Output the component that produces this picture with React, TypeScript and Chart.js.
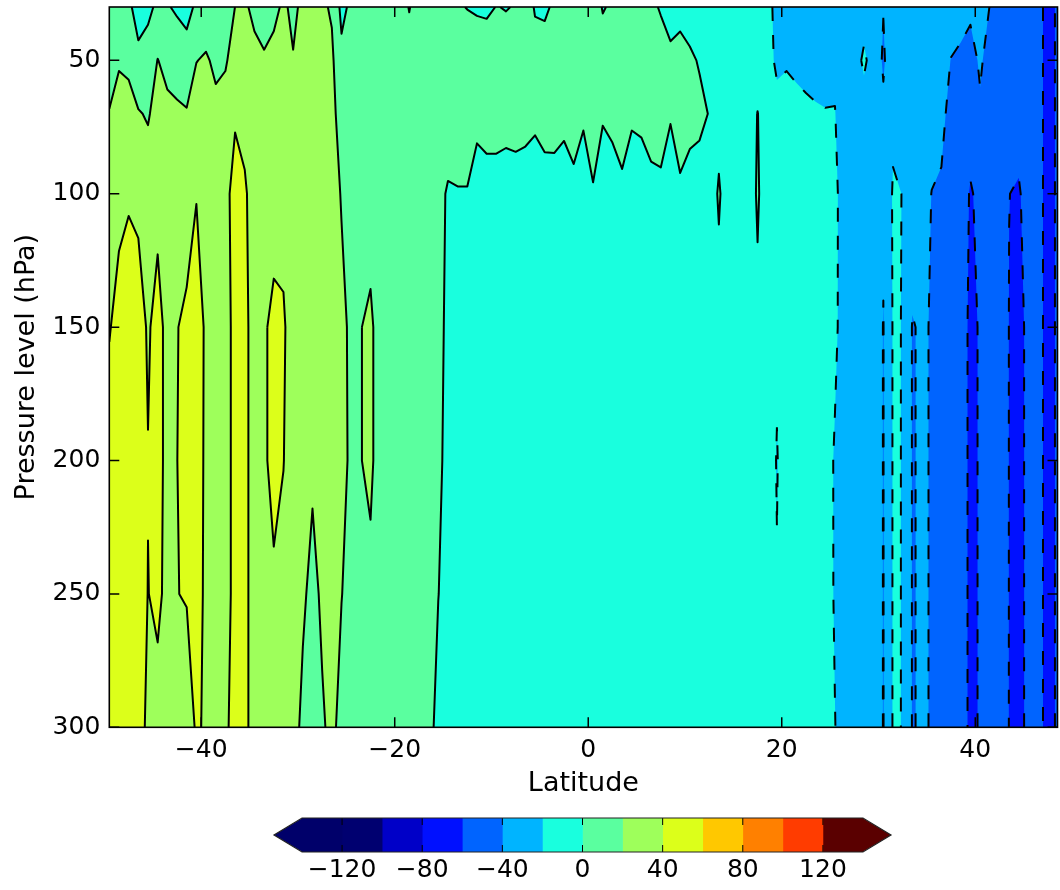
import React, { useEffect, useRef } from "react";
import { Chart, registerables } from "chart.js";

Chart.register(...registerables);

const FONT = "'DejaVu Sans', sans-serif";

// Latitude grid (degrees)
const latitudes = [
  -49.5, -48.5, -47.5, -46.5, -45.5, -44.5, -43.5, -42.5, -41.5, -40.5,
  -39.5, -38.5, -37.5, -36.5, -35.5, -34.5, -33.5, -32.5, -31.5, -30.5,
  -29.5, -28.5, -27.5, -26.5, -25.5, -24.5, -23.5, -22.5, -21.5, -20.5,
  -19.5, -18.5, -17.5, -16.5, -15.5, -14.5, -13.5, -12.5, -11.5, -10.5,
  -9.5, -8.5, -7.5, -6.5, -5.5, -4.5, -3.5, -2.5, -1.5, -0.5,
  0.5, 1.5, 2.5, 3.5, 4.5, 5.5, 6.5, 7.5, 8.5, 9.5,
  10.5, 11.5, 12.5, 13.5, 14.5, 15.5, 16.5, 17.5, 18.5, 19.5,
  20.5, 21.5, 22.5, 23.5, 24.5, 25.5, 26.5, 27.5, 28.5, 29.5,
  30.5, 31.5, 32.5, 33.5, 34.5, 35.5, 36.5, 37.5, 38.5, 39.5,
  40.5, 41.5, 42.5, 43.5, 44.5, 45.5, 46.5, 47.5, 48.5,
];

// Pressure levels (hPa)
const pressureLevels = [30, 50, 70, 100, 150, 200, 250, 300];

// Field values at each pressure level, one value per latitude
const u30 = [
  12, 10, 2.4, -5, -4, 3.3, 1, -2, -6, 3,
  8, 10, 12, 20.1, 23, 15, 12, 15, 23, 16,
  24, 27, 23, 17.9, -5, 3.9, 10, 10, 10, 10,
  10, -1, 10, 10, 10, 10, 1.6, -0.5, -3, -4,
  0.5, -0.8, 1, 12, -2, -2.5, 2.3, 3, 8, 8,
  8, -1, 2, 10, 10, 10, 4.5, -2, -5, -4,
  -6, -8, -10, -10, -10, -10, -10, -12, -11, -28,
  -30, -30, -30, -30, -30, -25, -30, -30, -30, -30,
  -39.5, -30, -30, -30, -30, -30, -30, -32, -36, -38,
  -35, -40.2, -45, -48, -50, -50, -55, -65, -58.2,
];
const u50 = [
  15, 18, 16, 3, 8, 20.5, 14, 9, 8.3, 19.5,
  22.3, 16, 18, 28, 30, 26, 22, 26, 30, 21,
  30, 30, 25, 23.3, 5, 10, 10, 10, 10, 10,
  10, 9, 10, 10, 10, 10, 10, 10, 15, 14,
  10, 9, 10, 10, 9, 7, 10, 10, 10, 10,
  10, 7.3, 10, 10, 10, 10, 10, 10.5, 2.8, 4.7,
  2.1, -1, -8, -10, -10, -10, -10, -10, -10.5, -24.7,
  -22, -24, -26, -27, -28, -23, -30, -30, -16, -30,
  -42, -30, -30, -30, -30, -30, -33, -40.5, -42, -44,
  -38.5, -44, -50, -50, -52, -50, -55, -65, -58.2,
];
const u70 = [
  20.5, 28, 27, 21.6, 18, 28, 25, 24, 21.5, 30,
  30, 25, 28, 36, 33, 30, 30, 30, 30, 30,
  30, 30, 28, 26.7, 10, 10, 10, 10, 10, 10,
  10, 10, 10, 10, 10, 15.75, 10, 10, 5, 10,
  10, 7.5, 10, 10, 5, 10, 10, 6, 10, 4,
  12, 3, 7, 10, 4, 5, 10, 10, 2, 8,
  6, 3, -0.5, -6, -10, -10, -10, 0.5, -10, -12,
  -12, -14.5, -16.2, -18, -19, -19.5, -30, -30, -30, -30,
  -37, -24, -30, -30, -30, -30, -36, -45, -46, -50,
  -41.5, -48, -50, -52, -56, -50, -55, -65, -58.2,
];
const u100 = [
  30, 34, 38, 36, 32, 35, 30, 30, 33, 39,
  32, 30, 30, 53, 43, 30, 32, 33, 33, 30,
  30, 30, 30, 33.4, 18, 10, 12, 10, 10, 10,
  10, 10, 10, 10, 8.1, -3, -1, -1, -8.5, -10,
  -10, -10, -11, -14.4, -13.5, -10.8, -10.4, -11.6, -5.9, -15,
  -2, -17, -12.4, -4.5, -15, -11.7, -6.7, -4.9, -13.4, -2.8,
  -7.6, -6, -10, 2, -10, -10, -10, 2, -10, -10,
  -10, -10, -10, -10, -10, -15.7, -30, -30, -30, -30,
  -38, -18, -20.3, -30, -30, -40.5, -42, -47, -48.3, -62,
  -55, -50, -50, -59.9, -61, -55.9, -55, -65, -58.2,
];
const u150 = [
  38.5, 48, 50, 48, 38, 46, 35, 39.5, 43, 52,
  36, 30, 30, 48, 46, 30, 38, 44, 42.5, 30,
  30, 28, 30, 32, 27.6, 14, 19.5, 24, 10, 10,
  10, 10, 10, 10, 13.3, -10, -10, -10, -10, -10,
  -10, -10, -10, -10, -10, -10, -10, -10, -10, -10,
  -10, -10, -10, -10, -10, -10, -10, -10, -10, -10,
  -10, -10, -10, -6.7, -10, -10, -10, -3.5, -10, -17,
  -10, -10, -10, -10, -10, -16, -30, -30, -30, -30,
  -40.5, -18.7, -20.3, -41, -38, -41, -46, -47, -48.3, -65,
  -58.2, -50, -50, -60.3, -65, -55.9, -55, -65, -58.2,
];
const u200 = [
  52, 52, 52, 50, 40.6, 46, 35, 39.8, 46, 50,
  36, 30, 30, 48, 46, 30, 38, 44, 40.5, 30,
  30, 24, 30, 32, 29.8, 14, 19.5, 24, 10, 10,
  10, 10, 10, 10, 7.2, -10, -10, -10, -10, -10,
  -10, -10, -10, -10, -10, -10, -10, -10, -10, -10,
  -10, -10, -10, -10, -10, -10, -10, -10, -10, -10,
  -10, -10, -10, -10, -10, -10, -10, -10, -10, -21,
  -10, -10, -10, -10, -10, -22.2, -30, -30, -30, -30,
  -40.5, -18.7, -20.3, -41, -38, -41, -46, -47, -48.3, -65,
  -58.2, -50, -50, -60.3, -65, -55.9, -55, -65, -58.2,
];
const u250 = [
  50, 52, 52, 50, 39.6, 44, 35, 39.7, 41, 48,
  36, 30, 30, 48, 46, 30, 33, 37.8, 34, 30,
  24, 12.9, 24, 28, 20.6, 12, 10, 15, 10, 10,
  10, 10, 10, 10, 0.5, -10, -10, -10, -10, -10,
  -10, -10, -10, -10, -10, -10, -10, -10, -10, -10,
  -10, -10, -10, -10, -10, -10, -10, -10, -10, -10,
  -10, -10, -10, -10, -10, -10, -10, -10, -10, -19,
  -10, -10, -10, -10, -10, -22, -30, -30, -30, -30,
  -40.5, -18.7, -20.3, -41, -38, -41, -46, -47, -48.3, -65,
  -58.2, -50, -50, -60.3, -65, -55.9, -55, -65, -58.2,
];
const u300 = [
  50, 52, 52, 50, 35, 33, 32, 32, 31, 42,
  38, 30, 36, 48, 46, 30, 30, 32, 30, 30,
  14, 8, 17, 26, 12, 12, 10, 10, 10, 10,
  10, 10, 10, 10, -9.2, -10, -10, -10, -10, -10,
  -10, -10, -10, -10, -10, -10, -10, -10, -10, -10,
  -10, -10, -10, -10, -10, -10, -10, -10, -10, -10,
  -10, -10, -10, -10, -10, -10, -10, -10, -10, -10,
  -10, -10, -10, -10, -10, -19.5, -30, -30, -30, -30,
  -40.5, -18.7, -20.3, -41, -38, -41, -46, -47, -48.3, -65,
  -58.2, -50, -50, -60.3, -65, -55.9, -55, -65, -58.2,
];

const fieldRows = [u30, u50, u70, u100, u150, u200, u250, u300];

const contourLevels = [-140, -120, -100, -80, -60, -40, -20, 0, 20, 40, 60, 80, 100, 120, 140];
// [below lowest, 14 bands, above highest]
const fillColors = [
  "#00006a", "#00006a", "#000070", "#0000c8", "#0010ff", "#0064ff", "#00b4ff", "#19ffde",
  "#5aff9f", "#9eff5b", "#dcff1a", "#ffc800", "#ff8000", "#ff3c00", "#5a0000", "#5a0000",
];

const xTickValues = [-40, -20, 0, 20, 40];
const yTickValues = [50, 100, 150, 200, 250, 300];
const colorbarTicks = [-120, -80, -40, 0, 40, 80, 120];

const fmt = (v: number) => (v < 0 ? "\u2212" + Math.abs(v) : String(v));

type P3 = number[];

function clipPoly(pts: P3[], L: number): P3[] {
  const out: P3[] = [];
  const n = pts.length;
  for (let k = 0; k < n; k++) {
    const p = pts[k];
    const q = pts[(k + 1) % n];
    const pin = p[2] >= L;
    const qin = q[2] >= L;
    if (pin) out.push(p);
    if (pin !== qin) {
      const t = (L - p[2]) / (q[2] - p[2]);
      out.push([p[0] + t * (q[0] - p[0]), p[1] + t * (q[1] - p[1]), L]);
    }
  }
  return out;
}

function contourLines(px: number[], py: number[], L: number): number[][][] {
  const segs: { k1: string; k2: string; p1: number[]; p2: number[] }[] = [];
  for (let j = 0; j < py.length - 1; j++) {
    for (let i = 0; i < px.length - 1; i++) {
      const c = [
        [i, j],
        [i + 1, j],
        [i + 1, j + 1],
        [i, j + 1],
      ];
      const keys = [`h${i}_${j}`, `v${i + 1}_${j}`, `h${i}_${j + 1}`, `v${i}_${j}`];
      const cr: { key: string; exit: boolean; p: number[] }[] = [];
      for (let e = 0; e < 4; e++) {
        const [ai, aj] = c[e];
        const [bi, bj] = c[(e + 1) % 4];
        const va = fieldRows[aj][ai];
        const vb = fieldRows[bj][bi];
        const ain = va >= L;
        const bin = vb >= L;
        if (ain !== bin) {
          const t = (L - va) / (vb - va);
          cr.push({
            key: keys[e],
            exit: ain,
            p: [px[ai] + t * (px[bi] - px[ai]), py[aj] + t * (py[bj] - py[aj])],
          });
        }
      }
      for (let m = 0; m < cr.length; m++) {
        if (cr[m].exit) {
          const nx = cr[(m + 1) % cr.length];
          segs.push({ k1: cr[m].key, k2: nx.key, p1: cr[m].p, p2: nx.p });
        }
      }
    }
  }
  const byKey = new Map<string, number[]>();
  segs.forEach((s, idx) => {
    for (const k of [s.k1, s.k2]) {
      const arr = byKey.get(k);
      if (arr) arr.push(idx);
      else byKey.set(k, [idx]);
    }
  });
  const used = segs.map(() => false);
  const lines: number[][][] = [];
  for (let s = 0; s < segs.length; s++) {
    if (used[s]) continue;
    used[s] = true;
    const pts = [segs[s].p1, segs[s].p2];
    let end = segs[s].k2;
    for (;;) {
      const nxt = (byKey.get(end) || []).find((t) => !used[t]);
      if (nxt === undefined) break;
      used[nxt] = true;
      const sg = segs[nxt];
      if (sg.k1 === end) {
        pts.push(sg.p2);
        end = sg.k2;
      } else {
        pts.push(sg.p1);
        end = sg.k1;
      }
    }
    let start = segs[s].k1;
    for (;;) {
      const nxt = (byKey.get(start) || []).find((t) => !used[t]);
      if (nxt === undefined) break;
      used[nxt] = true;
      const sg = segs[nxt];
      if (sg.k2 === start) {
        pts.unshift(sg.p1);
        start = sg.k1;
      } else {
        pts.unshift(sg.p2);
        start = sg.k2;
      }
    }
    lines.push(pts);
  }
  return lines;
}

const contourPlugin = {
  id: "contourField",
  beforeDatasetsDraw(chart: any) {
    const { ctx, chartArea: a, scales } = chart;
    const xs = scales.x;
    const ys = scales.y;
    const px = latitudes.map((v) => xs.getPixelForValue(v));
    const py = pressureLevels.map((v) => ys.getPixelForValue(v));
    ctx.save();
    ctx.beginPath();
    ctx.rect(a.left, a.top, a.right - a.left, a.bottom - a.top);
    ctx.clip();
    ctx.fillStyle = fillColors[0];
    ctx.fillRect(px[0], py[0], px[px.length - 1] - px[0], py[py.length - 1] - py[0]);
    for (let k = 0; k < contourLevels.length; k++) {
      const L = contourLevels[k];
      ctx.beginPath();
      let any = false;
      for (let j = 0; j < py.length - 1; j++) {
        for (let i = 0; i < px.length - 1; i++) {
          const poly: P3[] = [
            [px[i], py[j], fieldRows[j][i]],
            [px[i + 1], py[j], fieldRows[j][i + 1]],
            [px[i + 1], py[j + 1], fieldRows[j + 1][i + 1]],
            [px[i], py[j + 1], fieldRows[j + 1][i]],
          ];
          const out = clipPoly(poly, L);
          if (out.length < 3) continue;
          any = true;
          ctx.moveTo(out[0][0], out[0][1]);
          for (let m = 1; m < out.length; m++) ctx.lineTo(out[m][0], out[m][1]);
          ctx.closePath();
        }
      }
      if (any) {
        ctx.fillStyle = fillColors[k + 1];
        ctx.fill();
      }
    }
    ctx.strokeStyle = "#000";
    ctx.lineWidth = 2;
    ctx.lineJoin = "round";
    ctx.lineCap = "butt";
    for (const L of contourLevels) {
      const lines = contourLines(px, py, L);
      ctx.setLineDash(L < 0 ? [14, 14] : []);
      for (const pl of lines) {
        ctx.beginPath();
        ctx.moveTo(pl[0][0], pl[0][1]);
        for (let m = 1; m < pl.length; m++) ctx.lineTo(pl[m][0], pl[m][1]);
        ctx.stroke();
      }
    }
    ctx.restore();
  },
  afterDraw(chart: any) {
    const { ctx, chartArea: a, scales } = chart;
    ctx.save();
    ctx.strokeStyle = "#000";
    ctx.lineWidth = 1.5;
    ctx.setLineDash([]);
    const tl = 10;
    for (const v of xTickValues) {
      const X = scales.x.getPixelForValue(v);
      ctx.beginPath();
      ctx.moveTo(X, a.bottom);
      ctx.lineTo(X, a.bottom - tl);
      ctx.moveTo(X, a.top);
      ctx.lineTo(X, a.top + tl);
      ctx.stroke();
    }
    for (const v of yTickValues) {
      const Y = scales.y.getPixelForValue(v);
      ctx.beginPath();
      ctx.moveTo(a.left, Y);
      ctx.lineTo(a.left + tl, Y);
      ctx.moveTo(a.right, Y);
      ctx.lineTo(a.right - tl, Y);
      ctx.stroke();
    }
    ctx.lineWidth = 1.6;
    ctx.strokeRect(a.left, a.top, a.right - a.left, a.bottom - a.top);
    ctx.restore();
  },
};

const colorbarPlugin = {
  id: "colorbarExtras",
  afterDatasetsDraw(chart: any) {
    const { ctx, chartArea: a, scales } = chart;
    const x = scales.x;
    const l = x.getPixelForValue(contourLevels[0]);
    const r = x.getPixelForValue(contourLevels[contourLevels.length - 1]);
    const mid = (a.top + a.bottom) / 2;
    const ext = 28;
    ctx.save();
    ctx.fillStyle = fillColors[0];
    ctx.beginPath();
    ctx.moveTo(l + 0.5, a.top);
    ctx.lineTo(l - ext, mid);
    ctx.lineTo(l + 0.5, a.bottom);
    ctx.closePath();
    ctx.fill();
    ctx.fillStyle = fillColors[fillColors.length - 1];
    ctx.beginPath();
    ctx.moveTo(r - 0.5, a.top);
    ctx.lineTo(r + ext, mid);
    ctx.lineTo(r - 0.5, a.bottom);
    ctx.closePath();
    ctx.fill();
    ctx.strokeStyle = "#000";
    ctx.lineWidth = 1;
    for (const v of colorbarTicks) {
      const X = x.getPixelForValue(v);
      ctx.beginPath();
      ctx.moveTo(X, a.top);
      ctx.lineTo(X, a.top + 7);
      ctx.moveTo(X, a.bottom);
      ctx.lineTo(X, a.bottom - 7);
      ctx.stroke();
    }
    ctx.strokeStyle = "#222";
    ctx.lineWidth = 1.2;
    ctx.beginPath();
    ctx.moveTo(l, a.top);
    ctx.lineTo(r, a.top);
    ctx.lineTo(r + ext, mid);
    ctx.lineTo(r, a.bottom);
    ctx.lineTo(l, a.bottom);
    ctx.lineTo(l - ext, mid);
    ctx.closePath();
    ctx.stroke();
    ctx.restore();
  },
};

export default function App() {
  const mainRef = useRef<HTMLCanvasElement>(null);
  const barRef = useRef<HTMLCanvasElement>(null);

  useEffect(() => {
    Chart.defaults.font.family = FONT;
    Chart.defaults.color = "#000";
    const tickFont = { family: FONT, size: 25 };
    const titleFont = { family: FONT, size: 27 };

    const main = new Chart(mainRef.current as HTMLCanvasElement, {
      type: "scatter",
      data: { datasets: [{ label: "field", data: [], pointRadius: 0 }] },
      options: {
        responsive: false,
        animation: false,
        layout: { padding: { top: 7, right: 2.5, left: 0, bottom: 0 } },
        plugins: { legend: { display: false }, tooltip: { enabled: false } },
        scales: {
          x: {
            type: "linear",
            position: "bottom",
            min: latitudes[0],
            max: latitudes[latitudes.length - 1],
            afterBuildTicks: (s: any) => {
              s.ticks = xTickValues.map((v) => ({ value: v }));
            },
            afterFit: (s: any) => {
              s.height = 72.7;
              s.paddingLeft = 0;
              s.paddingRight = 0;
              s.paddingTop = 0;
              s.paddingBottom = 0;
            },
            grid: { display: false, drawTicks: false },
            border: { display: false },
            ticks: {
              font: tickFont,
              color: "#000",
              padding: 8,
              autoSkip: false,
              maxRotation: 0,
              callback: (v: any) => fmt(Number(v)),
            },
            title: {
              display: true,
              text: "Latitude",
              font: titleFont,
              color: "#000",
              padding: { top: 0, bottom: 0 },
            },
          },
          y: {
            type: "linear",
            position: "left",
            reverse: true,
            min: pressureLevels[0],
            max: pressureLevels[pressureLevels.length - 1],
            afterBuildTicks: (s: any) => {
              s.ticks = yTickValues.map((v) => ({ value: v }));
            },
            afterFit: (s: any) => {
              s.width = 109.3;
              s.paddingTop = 0;
              s.paddingBottom = 0;
              s.paddingLeft = 0;
              s.paddingRight = 0;
            },
            grid: { display: false, drawTicks: false },
            border: { display: false },
            ticks: {
              font: tickFont,
              color: "#000",
              padding: 9,
              autoSkip: false,
              callback: (v: any) => fmt(Number(v)),
            },
            title: {
              display: true,
              text: "Pressure level (hPa)",
              font: titleFont,
              color: "#000",
              padding: { top: 11, bottom: 0 },
            },
          },
        },
      } as any,
      plugins: [contourPlugin],
    });

    const bandDatasets = contourLevels.slice(0, -1).map((lo, k) => ({
      label: `${lo}`,
      data: [[lo, contourLevels[k + 1]]],
      backgroundColor: fillColors[k + 1],
      borderWidth: 0,
      barPercentage: 1,
      categoryPercentage: 1,
      grouped: false,
    }));

    const bar = new Chart(barRef.current as HTMLCanvasElement, {
      type: "bar",
      data: { labels: [""], datasets: bandDatasets as any },
      options: {
        indexAxis: "y",
        responsive: false,
        animation: false,
        layout: { padding: { left: 302, right: 197, top: 18, bottom: 0 } },
        plugins: { legend: { display: false }, tooltip: { enabled: false } },
        scales: {
          x: {
            type: "linear",
            min: contourLevels[0],
            max: contourLevels[contourLevels.length - 1],
            afterBuildTicks: (s: any) => {
              s.ticks = colorbarTicks.map((v) => ({ value: v }));
            },
            afterFit: (s: any) => {
              s.height = 38;
              s.paddingLeft = 0;
              s.paddingRight = 0;
            },
            grid: { display: false, drawTicks: false },
            border: { display: false },
            ticks: {
              font: tickFont,
              color: "#000",
              padding: 3,
              autoSkip: false,
              maxRotation: 0,
              callback: (v: any) => fmt(Number(v)),
            },
          },
          y: { display: false },
        },
      } as any,
      plugins: [colorbarPlugin],
    });

    return () => {
      main.destroy();
      bar.destroy();
    };
  }, []);

  return (
    <div style={{ position: "absolute", left: 0, top: 0, width: 1060, height: 890, background: "#fff" }}>
      <canvas
        ref={mainRef}
        width={1060}
        height={800}
        style={{ position: "absolute", left: 0, top: 0, width: 1060, height: 800 }}
      />
      <canvas
        ref={barRef}
        width={1060}
        height={90}
        style={{ position: "absolute", left: 0, top: 800, width: 1060, height: 90 }}
      />
    </div>
  );
}
